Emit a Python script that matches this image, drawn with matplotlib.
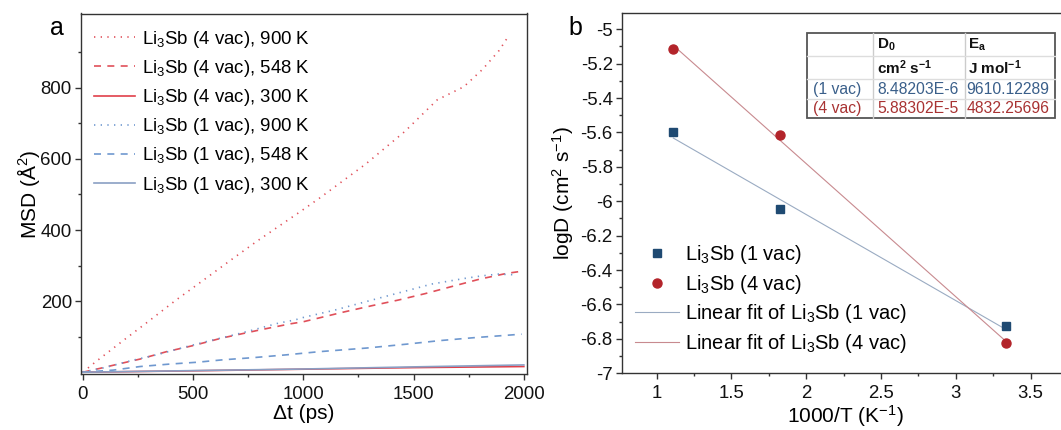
import numpy as np
import matplotlib
matplotlib.use('Agg')
import matplotlib.pyplot as plt
from matplotlib.ticker import MultipleLocator, FixedLocator, FuncFormatter
from matplotlib.lines import Line2D
from matplotlib.patches import Rectangle

plt.rcParams['font.family'] = ['Liberation Sans', 'DejaVu Sans']
plt.rcParams['mathtext.fontset'] = 'custom'
plt.rcParams['mathtext.rm'] = 'Liberation Sans'
plt.rcParams['mathtext.it'] = 'Liberation Sans:italic'
plt.rcParams['mathtext.bf'] = 'Liberation Sans:bold'
plt.rcParams['axes.unicode_minus'] = False

SPINE = '#333333'
RED = '#e0505a'
RED_SOLID = '#e0404a'
BLUE = '#6f98cf'
BLUE_SOLID = '#8a9fc4'
NAVY = '#1f4a72'
DARKRED = '#b3242a'
FIT_BLUE = '#9aabc2'
FIT_RED = '#c88a8f'

# ---- panel a: MSD vs time ----
t_4v_900 = [0, 60, 181, 302, 423, 545, 668, 791, 916, 980, 1072, 1284, 1460,
            1607, 1728, 1813, 1888, 1931]
msd_4v_900 = [0, 30, 88, 145, 203, 258, 314, 369, 422, 449, 489, 586, 677,
              766, 803, 852, 905, 946]

t_4v_548 = [0, 79, 196, 260, 381, 501, 630, 690, 811, 940, 1000, 1181, 1310,
            1431, 1552, 1673, 1801, 1922, 1990]
msd_4v_548 = [0, 11, 28, 37, 58, 75, 96, 104, 120, 136, 142, 169, 187,
              203, 221, 241, 262, 278, 284]

t_4v_300 = [0, 500, 1000, 1500, 2000]
msd_4v_300 = [0, 4, 8.5, 13, 16]

t_1v_900 = [0, 100, 222, 335, 471, 592, 698, 773, 887, 962, 1000, 1144, 1287,
            1438, 1582, 1733, 1809, 1884, 1960]
msd_1v_900 = [0, 13, 33, 49, 72, 91, 107, 119, 138, 147, 154, 175, 199,
              224, 248, 264, 271, 276, 274]

t_1v_548 = [0, 139, 260, 396, 517, 637, 773, 925, 1076, 1287, 1469, 1620,
            1771, 1990]
msd_1v_548 = [0, 6, 16, 23, 28, 35, 41, 49, 58, 68, 79, 89, 97, 107]

t_1v_300 = [0, 500, 1000, 1500, 2000]
msd_1v_300 = [0, 4.5, 9, 15, 20.5]

# ---- panel b: Arrhenius plot ----
inv_T = [1000 / 900, 1000 / 548, 1000 / 300]
logD_1v = [-5.596, -6.043, -6.727]
logD_4v = [-5.113, -5.617, -6.822]

table_rows = ['(1 vac)', '(4 vac)']
table_D0 = ['8.48203E-6', '5.88302E-5']
table_Ea = ['9610.12289', '4832.25696']

W, H = 1061, 430
fig = plt.figure(figsize=(W / 100, H / 100), dpi=100, facecolor='white')


def style_axes(ax):
    for s in ax.spines.values():
        s.set_color(SPINE)
        s.set_linewidth(1.0)
    ax.tick_params(which='both', direction='out', color=SPINE, width=1.0,
                   labelsize=13.4, labelcolor='#111111')
    ax.tick_params(which='major', length=4.5)
    ax.tick_params(which='minor', length=2.5)
    ax.tick_params(axis='x', pad=4)
    ax.tick_params(axis='y', pad=2)


fmt = FuncFormatter(lambda v, p: f'{v:g}')

# ---- panel a ----
ax1 = fig.add_axes([81 / W, 1 - 374 / H, 445.7 / W, 360.5 / H])
style_axes(ax1)
ls_dot = (0, (0.8, 3.2))
ls_dash = (0, (4.2, 3.8))
ax1.plot(t_4v_900, msd_4v_900, color=RED, lw=1.2, ls=ls_dot,
         label='Li$_3$Sb (4 vac), 900 K')
ax1.plot(t_4v_548, msd_4v_548, color=RED, lw=1.2, ls=ls_dash,
         label='Li$_3$Sb (4 vac), 548 K')
ax1.plot(t_4v_300, msd_4v_300, color=RED_SOLID, lw=1.2,
         label='Li$_3$Sb (4 vac), 300 K')
ax1.plot(t_1v_900, msd_1v_900, color=BLUE, lw=1.2, ls=ls_dot,
         label='Li$_3$Sb (1 vac), 900 K')
ax1.plot(t_1v_548, msd_1v_548, color=BLUE, lw=1.2, ls=ls_dash,
         label='Li$_3$Sb (1 vac), 548 K')
ax1.plot(t_1v_300, msd_1v_300, color=BLUE_SOLID, lw=1.2,
         label='Li$_3$Sb (1 vac), 300 K')

ax1.set_xlim(-8, 2013)
ax1.set_ylim(-5, 1009)
ax1.xaxis.set_major_locator(MultipleLocator(500))
ax1.xaxis.set_minor_locator(FixedLocator([250, 750, 1250, 1750]))
ax1.yaxis.set_major_locator(FixedLocator([200, 400, 600, 800]))
ax1.yaxis.set_minor_locator(FixedLocator([100, 300, 500, 700, 900]))
ax1.set_xlabel('Δt (ps)', fontsize=15, labelpad=1)
ax1.set_ylabel('MSD (Å$^2$)', fontsize=15, labelpad=-1)
ax1.legend(loc='upper left', bbox_to_anchor=(0.029, 0.958), frameon=False,
           fontsize=13.4, handlelength=2.2, handletextpad=0.4,
           labelspacing=0.44, borderpad=0, borderaxespad=0)

# ---- panel b ----
ax2 = fig.add_axes([621.7 / W, 1 - 373.3 / H, 446.3 / W, 360 / H])
style_axes(ax2)
ax2.spines['right'].set_visible(False)

x_fit = np.array([min(inv_T), max(inv_T)])
k1, b1 = np.polyfit(inv_T, logD_1v, 1)
k4, b4 = np.polyfit(inv_T, logD_4v, 1)

ax2.plot(inv_T, logD_1v, ls='none', marker='s', ms=5.5, color=NAVY,
         label='Li$_3$Sb (1 vac)', zorder=4)
ax2.plot(inv_T, logD_4v, ls='none', marker='o', ms=6.5, color=DARKRED,
         label='Li$_3$Sb (4 vac)', zorder=4)
ax2.plot(x_fit, k1 * x_fit + b1, color=FIT_BLUE, lw=0.8,
         label='Linear fit of Li$_3$Sb (1 vac)', zorder=3)
ax2.plot(x_fit, k4 * x_fit + b4, color=FIT_RED, lw=0.8,
         label='Linear fit of Li$_3$Sb (4 vac)', zorder=3)

ax2.set_xlim(0.766, 3.75)
ax2.set_ylim(-7, -4.907)
ax2.xaxis.set_major_locator(MultipleLocator(0.5))
ax2.xaxis.set_minor_locator(MultipleLocator(0.25))
ax2.yaxis.set_major_locator(MultipleLocator(0.2))
ax2.yaxis.set_minor_locator(MultipleLocator(0.1))
ax2.xaxis.set_major_formatter(fmt)
ax2.yaxis.set_major_formatter(fmt)
ax2.set_xlabel('1000/T (K$^{-1}$)', fontsize=15, labelpad=1)
ax2.set_ylabel('logD (cm$^2$ s$^{-1}$)', fontsize=15, labelpad=3)
ax2.legend(loc='upper left', bbox_to_anchor=(0.03, 0.362), frameon=False,
           fontsize=14.5, handlelength=2.2, handletextpad=0.3,
           labelspacing=0.33, borderpad=0, borderaxespad=0)

# ---- fit parameter table ----
col_x = [0.416, 0.564, 0.769, 0.971]
row_y = [0.946, 0.881, 0.817, 0.762, 0.708]
tr = ax2.transAxes
ax2.add_patch(Rectangle((col_x[0], row_y[-1]), col_x[-1] - col_x[0],
                        row_y[0] - row_y[-1], transform=tr, facecolor='white',
                        edgecolor='#555555', lw=1.3, zorder=6))
for x in col_x[1:-1]:
    ax2.add_line(Line2D([x, x], [row_y[-1], row_y[0]], transform=tr,
                        color='#cccccc', lw=1.0, zorder=7))
for y in row_y[1:-1]:
    ax2.add_line(Line2D([col_x[0], col_x[-1]], [y, y], transform=tr,
                        color='#dddddd', lw=1.0, zorder=7))

pad_l, pad_r = 0.007, 0.013
header = [['D$_\\mathbf{0}$', 'E$_\\mathbf{a}$'],
          ['cm$^\\mathbf{2}$ s$^\\mathbf{-1}$', 'J mol$^\\mathbf{-1}$']]
for r in range(2):
    yc = (row_y[r] + row_y[r + 1]) / 2
    for c in range(2):
        ax2.text(col_x[c + 1] + pad_l, yc, header[r][c], transform=tr,
                 ha='left', va='center', fontsize=11, fontweight='bold',
                 color='#111111', zorder=8)
for i, (name, d0, ea) in enumerate(zip(table_rows, table_D0, table_Ea)):
    col = '#3a5f8a' if i == 0 else '#a83232'
    yc = (row_y[i + 2] + row_y[i + 3]) / 2
    ax2.text(col_x[0] + 0.013, yc, name, transform=tr, ha='left',
             va='center', fontsize=11.3, color=col, zorder=8)
    ax2.text(col_x[2] - pad_r, yc, d0, transform=tr, ha='right',
             va='center', fontsize=11.3, color=col, zorder=8)
    ax2.text(col_x[3] - pad_r, yc, ea, transform=tr, ha='right',
             va='center', fontsize=11.3, color=col, zorder=8)

fig.text(56.7 / W, 1 - 28 / H, 'a', fontsize=18, ha='center', va='center')
fig.text(575.6 / W, 1 - 28 / H, 'b', fontsize=18, ha='center', va='center')

fig.savefig('out.png', dpi=100, facecolor='white')
